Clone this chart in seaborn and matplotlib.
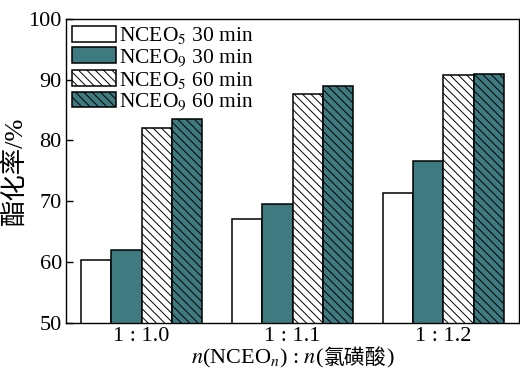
import matplotlib
matplotlib.use("Agg")
import matplotlib.pyplot as plt
from matplotlib.offsetbox import TextArea, HPacker, AnchoredOffsetbox
import seaborn as sns
import pandas as pd

ratios = ["1 : 1.0", "1 : 1.1", "1 : 1.2"]
series = ["NCEO$_5$ 30 min", "NCEO$_9$ 30 min", "NCEO$_5$ 60 min", "NCEO$_9$ 60 min"]
nceo5_30 = [60.3, 67.0, 71.3]
nceo9_30 = [62.0, 69.5, 76.7]
nceo5_60 = [82.1, 87.7, 90.8]
nceo9_60 = [83.6, 89.0, 91.0]
yticks = [50, 60, 70, 80, 90, 100]

values = [nceo5_30, nceo9_30, nceo5_60, nceo9_60]
rows = []
for s, vals in zip(series, values):
    for r, v in zip(ratios, vals):
        rows.append({"ratio": r, "series": s, "value": v})
df = pd.DataFrame(rows)

sns.set_theme(style="ticks")
plt.rcParams["font.family"] = ["Liberation Serif", "Noto Sans CJK SC"]
plt.rcParams["mathtext.fontset"] = "stix"
plt.rcParams["hatch.linewidth"] = 0.7
plt.rcParams["hatch.color"] = "black"
for k in ["text.color", "axes.labelcolor", "xtick.color", "ytick.color", "axes.edgecolor"]:
    plt.rcParams[k] = "black"

teal = "#3e7a80"
colors = ["white", teal, "white", teal]
hatches = ["", "", "\\\\\\\\", "\\\\\\\\"]

fig = plt.figure(figsize=(5.2, 3.69), dpi=100)
ax = fig.add_axes([0.127, 0.125, 0.871, 0.824])
sns.barplot(data=df, x="ratio", y="value", hue="series", order=ratios,
            hue_order=series, palette=colors, ax=ax, legend=False,
            edgecolor="black", linewidth=1.1, width=0.8, saturation=1)

for cont, h in zip(ax.containers, hatches):
    for p in cont.patches:
        p.set_hatch(h)
        p.set_edgecolor("black")

ax.set_ylim(50, 100)
ax.set_yticks(yticks)
ax.set_xlim(-0.5, 2.5)
ax.tick_params(axis="y", direction="in", length=5, width=1, labelsize=16, pad=3)
ax.tick_params(axis="x", length=0, labelsize=16, pad=3)
for sp in ax.spines.values():
    sp.set_visible(True)
    sp.set_linewidth(1.0)
    sp.set_color("black")

ax.set_ylabel("酯化率/%", fontsize=19, labelpad=1)
ax.set_xlabel("")

parts = HPacker(children=[
    TextArea(r"$n$(NCEO$_n$) : $n$(", textprops=dict(fontsize=16, color="black")),
    TextArea("氯磺酸", textprops=dict(fontsize=15, color="black",
                                     family=["Noto Sans CJK SC"])),
    TextArea(")", textprops=dict(fontsize=16, color="black")),
], align="baseline", pad=0, sep=0)
xlab = AnchoredOffsetbox(loc="upper center", child=parts, pad=0, borderpad=0,
                         frameon=False, bbox_to_anchor=(0.5, -0.078),
                         bbox_transform=ax.transAxes)
ax.add_artist(xlab)

handles = [c.patches[0] for c in ax.containers]
ax.legend(handles, series, loc="upper left", frameon=False, fontsize=15.5,
          handlelength=2.0, handleheight=0.75, labelspacing=0.05,
          handletextpad=0.15, borderaxespad=0.1, borderpad=0.2)

fig.savefig("out.png", dpi=100)
